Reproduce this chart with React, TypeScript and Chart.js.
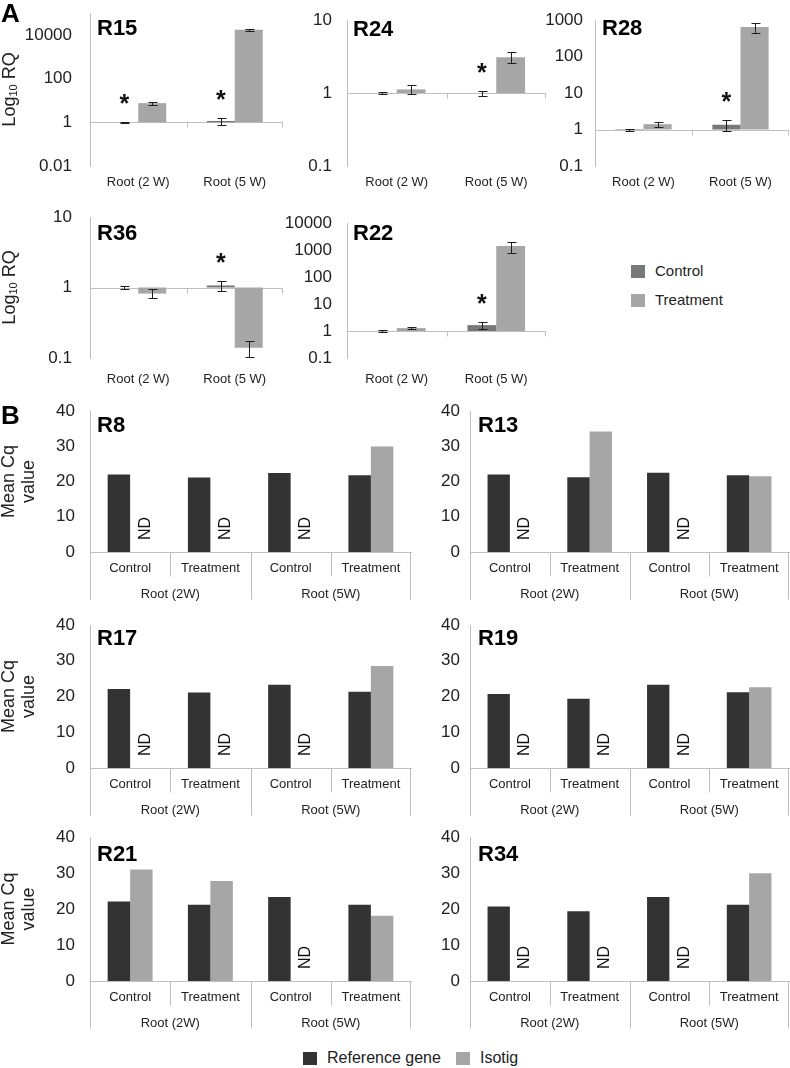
import React, { useEffect, useRef } from 'react';
import { Chart, registerables } from 'chart.js';

Chart.register(...registerables);

const FONT = "'Liberation Sans', Arial, Helvetica, sans-serif";
const TEXT = '#222222';
const AXIS = '#bfbfbf';
const CONTROL_COLOR = '#787878';
const TREATMENT_COLOR = '#a6a6a6';
const REFERENCE_COLOR = '#333333';
const ISOTIG_COLOR = '#a6a6a6';

// ---------- Panel A : relative quantification (log10 RQ) ----------
const A_CATEGORIES = ['Root (2 W)', 'Root (5 W)'];

const R15_CONTROL = [1.0, 1.15];
const R15_CONTROL_ERR = [0.05, 0.4];
const R15_TREATMENT = [7.5, 17000];
const R15_TREATMENT_ERR = [1.0, 2000];
const R15_STARS = [true, true];
const R15_TICKS = [0.01, 1, 100, 10000];
const R15_RANGE = [0.01, 100000];

const R24_CONTROL = [1.0, 1.0];
const R24_CONTROL_ERR = [0.04, 0.08];
const R24_TREATMENT = [1.12, 3.1];
const R24_TREATMENT_ERR = [0.15, 0.55];
const R24_STARS = [false, true];
const R24_TICKS = [0.1, 1, 10];
const R24_RANGE = [0.1, 10];

const R28_CONTROL = [0.97, 1.35];
const R28_CONTROL_ERR = [0.05, 0.45];
const R28_TREATMENT = [1.4, 640];
const R28_TREATMENT_ERR = [0.2, 200];
const R28_STARS = [false, true];
const R28_TICKS = [0.1, 1, 10, 100, 1000];
const R28_RANGE = [0.1, 1000];

const R36_CONTROL = [1.0, 1.07];
const R36_CONTROL_ERR = [0.06, 0.18];
const R36_TREATMENT = [0.82, 0.14];
const R36_TREATMENT_ERR = [0.12, 0.035];
const R36_STARS = [false, true];
const R36_TICKS = [0.1, 1, 10];
const R36_RANGE = [0.1, 10];

const R22_CONTROL = [1.0, 1.65];
const R22_CONTROL_ERR = [0.05, 0.5];
const R22_TREATMENT = [1.28, 1400];
const R22_TREATMENT_ERR = [0.12, 650];
const R22_STARS = [false, true];
const R22_TICKS = [0.1, 1, 10, 100, 1000, 10000];
const R22_RANGE = [0.1, 10000];

// ---------- Panel B : mean Cq values ----------
const B_CATEGORIES = ['Control', 'Treatment', 'Control', 'Treatment'];
const B_GROUPS = ['Root (2W)', 'Root (5W)'];
const B_TICKS = [0, 10, 20, 30, 40];
const B_RANGE = [0, 40];

const R8_REFERENCE = [22.0, 21.1, 22.4, 21.8];
const R8_ISOTIG = [null, null, null, 29.9];
const R13_REFERENCE = [22.0, 21.2, 22.5, 21.8];
const R13_ISOTIG = [null, 34.2, null, 21.5];
const R17_REFERENCE = [22.1, 21.1, 23.3, 21.3];
const R17_ISOTIG = [null, null, null, 28.5];
const R19_REFERENCE = [20.7, 19.4, 23.3, 21.2];
const R19_ISOTIG = [null, null, null, 22.6];
const R21_REFERENCE = [22.1, 21.2, 23.3, 21.2];
const R21_ISOTIG = [31.0, 27.8, null, 18.1];
const R34_REFERENCE = [20.7, 19.4, 23.3, 21.2];
const R34_ISOTIG = [null, null, null, 29.9];

type Box = { x: number; y: number; w: number; h: number };
type Plot = { l: number; t: number; r: number; b: number };

interface Common {
  title: string;
  canvas: Box;
  plot: Plot;
  tickPad: number;
  titleDx: number;
  titleDy: number;
  yTitle: boolean;
}
interface RqSpec extends Common {
  kind: 'A';
  control: number[];
  controlErr: number[];
  treatment: number[];
  treatmentErr: number[];
  stars: boolean[];
  ticks: number[];
  range: number[];
  labelPad: number;
}
interface CqSpec extends Common {
  kind: 'B';
  reference: number[];
  isotig: (number | null)[];
}
type Spec = RqSpec | CqSpec;

const A_SPECS: RqSpec[] = [
  { kind: 'A', title: 'R15', control: R15_CONTROL, controlErr: R15_CONTROL_ERR, treatment: R15_TREATMENT, treatmentErr: R15_TREATMENT_ERR, stars: R15_STARS, ticks: R15_TICKS, range: R15_RANGE,
    canvas: { x: 0, y: 0, w: 292, h: 200 }, plot: { l: 90, t: 13, r: 283, b: 166 }, tickPad: 18, labelPad: 9, titleDx: 7, titleDy: 22, yTitle: true },
  { kind: 'A', title: 'R24', control: R24_CONTROL, controlErr: R24_CONTROL_ERR, treatment: R24_TREATMENT, treatmentErr: R24_TREATMENT_ERR, stars: R24_STARS, ticks: R24_TICKS, range: R24_RANGE,
    canvas: { x: 280, y: 0, w: 267, h: 200 }, plot: { l: 347, t: 20, r: 546, b: 166 }, tickPad: 15, labelPad: 9, titleDx: 6, titleDy: 16, yTitle: false },
  { kind: 'A', title: 'R28', control: R28_CONTROL, controlErr: R28_CONTROL_ERR, treatment: R28_TREATMENT, treatmentErr: R28_TREATMENT_ERR, stars: R28_STARS, ticks: R28_TICKS, range: R28_RANGE,
    canvas: { x: 535, y: 0, w: 255, h: 200 }, plot: { l: 595, t: 20, r: 789, b: 166 }, tickPad: 12, labelPad: 9, titleDx: 7, titleDy: 15, yTitle: false },
  { kind: 'A', title: 'R36', control: R36_CONTROL, controlErr: R36_CONTROL_ERR, treatment: R36_TREATMENT, treatmentErr: R36_TREATMENT_ERR, stars: R36_STARS, ticks: R36_TICKS, range: R36_RANGE,
    canvas: { x: 0, y: 200, w: 292, h: 200 }, plot: { l: 90, t: 217, r: 283, b: 358 }, tickPad: 18, labelPad: 14, titleDx: 7, titleDy: 23, yTitle: true },
  { kind: 'A', title: 'R22', control: R22_CONTROL, controlErr: R22_CONTROL_ERR, treatment: R22_TREATMENT, treatmentErr: R22_TREATMENT_ERR, stars: R22_STARS, ticks: R22_TICKS, range: R22_RANGE,
    canvas: { x: 280, y: 200, w: 267, h: 200 }, plot: { l: 347, t: 223, r: 546, b: 358 }, tickPad: 15, labelPad: 14, titleDx: 6, titleDy: 17, yTitle: false },
];

const B_SPECS: CqSpec[] = [
  { kind: 'B', title: 'R8', reference: R8_REFERENCE, isotig: R8_ISOTIG,
    canvas: { x: 0, y: 395, w: 420, h: 215 }, plot: { l: 90, t: 411, r: 411, b: 552 }, tickPad: 15, titleDx: 7, titleDy: 21, yTitle: true },
  { kind: 'B', title: 'R13', reference: R13_REFERENCE, isotig: R13_ISOTIG,
    canvas: { x: 420, y: 395, w: 370, h: 215 }, plot: { l: 470, t: 411, r: 789, b: 552 }, tickPad: 10, titleDx: 8, titleDy: 21, yTitle: false },
  { kind: 'B', title: 'R17', reference: R17_REFERENCE, isotig: R17_ISOTIG,
    canvas: { x: 0, y: 610, w: 420, h: 215 }, plot: { l: 90, t: 625, r: 411, b: 768 }, tickPad: 15, titleDx: 7, titleDy: 20, yTitle: true },
  { kind: 'B', title: 'R19', reference: R19_REFERENCE, isotig: R19_ISOTIG,
    canvas: { x: 420, y: 610, w: 370, h: 215 }, plot: { l: 470, t: 625, r: 789, b: 768 }, tickPad: 10, titleDx: 8, titleDy: 20, yTitle: false },
  { kind: 'B', title: 'R21', reference: R21_REFERENCE, isotig: R21_ISOTIG,
    canvas: { x: 0, y: 822, w: 420, h: 215 }, plot: { l: 90, t: 837, r: 411, b: 981 }, tickPad: 15, titleDx: 7, titleDy: 24, yTitle: true },
  { kind: 'B', title: 'R34', reference: R34_REFERENCE, isotig: R34_ISOTIG,
    canvas: { x: 420, y: 822, w: 370, h: 215 }, plot: { l: 470, t: 837, r: 789, b: 981 }, tickPad: 10, titleDx: 8, titleDy: 24, yTitle: false },
];

function crisp(v: number) {
  return Math.round(v) + 0.5;
}

function zeroPadding(s: any) {
  s.paddingTop = 0;
  s.paddingBottom = 0;
  s.paddingLeft = 0;
  s.paddingRight = 0;
}

function makeDecor(spec: Spec) {
  return {
    id: 'decor_' + spec.title,
    beforeDatasetsDraw(chart: any) {
      if (spec.kind !== 'A') return;
      const { ctx, chartArea } = chart;
      const ys = chart.scales.y;
      const n = chart.data.labels.length;
      const w = (chartArea.right - chartArea.left) / n;
      const yy = crisp(ys.getPixelForValue(1));
      ctx.save();
      ctx.strokeStyle = AXIS;
      ctx.lineWidth = 1;
      ctx.beginPath();
      ctx.moveTo(chartArea.left, yy);
      ctx.lineTo(chartArea.right, yy);
      for (let i = 1; i <= n; i++) {
        const x = crisp(chartArea.left + i * w) - (i === n ? 1 : 0);
        ctx.moveTo(x, yy);
        ctx.lineTo(x, yy + 5);
      }
      ctx.stroke();
      ctx.restore();
    },
    afterDatasetsDraw(chart: any) {
      const { ctx, chartArea } = chart;
      const ys = chart.scales.y;
      ctx.save();
      if (spec.kind === 'A') {
        // error bars
        const sets = [
          { vals: spec.control, errs: spec.controlErr },
          { vals: spec.treatment, errs: spec.treatmentErr },
        ];
        ctx.strokeStyle = '#1e1e1e';
        ctx.lineWidth = 1;
        sets.forEach((s, d) => {
          const meta = chart.getDatasetMeta(d);
          s.vals.forEach((v, i) => {
            const el = meta.data[i];
            const x = crisp(el.x);
            const hi = crisp(ys.getPixelForValue(v + s.errs[i]));
            const lo = crisp(ys.getPixelForValue(v - s.errs[i]));
            ctx.beginPath();
            ctx.moveTo(x, hi);
            ctx.lineTo(x, lo);
            ctx.moveTo(x - 4, hi);
            ctx.lineTo(x + 5, hi);
            ctx.moveTo(x - 4, lo);
            ctx.lineTo(x + 5, lo);
            ctx.stroke();
          });
        });
        // significance stars
        const meta0 = chart.getDatasetMeta(0);
        ctx.fillStyle = '#111';
        ctx.font = `bold 25px ${FONT}`;
        ctx.textAlign = 'center';
        ctx.textBaseline = 'alphabetic';
        spec.stars.forEach((s, i) => {
          if (!s) return;
          const el = meta0.data[i];
          const top = ys.getPixelForValue(spec.control[i] + spec.controlErr[i]);
          ctx.fillText('*', el.x, top - 10);
        });
      } else {
        // ND labels where isotig not detected
        const meta0 = chart.getDatasetMeta(0);
        ctx.fillStyle = '#111';
        ctx.font = `16px ${FONT}`;
        ctx.textAlign = 'left';
        ctx.textBaseline = 'middle';
        spec.isotig.forEach((v, i) => {
          if (v !== null) return;
          const el = meta0.data[i];
          const x = el.x + el.width + 4;
          ctx.save();
          ctx.translate(x, chartArea.bottom - 12);
          ctx.rotate(-Math.PI / 2);
          ctx.fillText('ND', 0, 0);
          ctx.restore();
        });
        // multi-level category axis
        const n = chart.data.labels.length;
        const w = (chartArea.right - chartArea.left) / n;
        const per = n / B_GROUPS.length;
        const base = crisp(chartArea.bottom);
        ctx.strokeStyle = AXIS;
        ctx.lineWidth = 1;
        ctx.beginPath();
        for (let i = 0; i <= n; i++) {
          const x = crisp(chartArea.left + i * w) - (i === n ? 1 : 0);
          const len = i % per === 0 ? 47 : 24;
          ctx.moveTo(x, base);
          ctx.lineTo(x, base + len);
        }
        ctx.stroke();
        ctx.fillStyle = TEXT;
        ctx.font = `13px ${FONT}`;
        ctx.textAlign = 'center';
        ctx.textBaseline = 'middle';
        B_GROUPS.forEach((g, gi) => {
          const cx = chartArea.left + (gi + 0.5) * per * w;
          ctx.fillText(g, cx, chartArea.bottom + 42);
        });
      }
      // chart title
      ctx.fillStyle = '#000';
      ctx.font = `bold 22px ${FONT}`;
      ctx.textAlign = 'left';
      ctx.textBaseline = 'alphabetic';
      ctx.fillText(spec.title, chartArea.left + spec.titleDx, chartArea.top + spec.titleDy);
      // y-axis title
      if (spec.yTitle) {
        const cy = (chartArea.top + chartArea.bottom) / 2;
        ctx.fillStyle = TEXT;
        if (spec.kind === 'A') {
          ctx.save();
          ctx.translate(15 - spec.canvas.x, cy);
          ctx.rotate(-Math.PI / 2);
          ctx.textAlign = 'left';
          ctx.textBaseline = 'alphabetic';
          ctx.font = `18px ${FONT}`;
          const wLog = ctx.measureText('Log').width;
          const wRq = ctx.measureText(' RQ').width;
          ctx.font = `11px ${FONT}`;
          const w10 = ctx.measureText('10').width;
          const start = -(wLog + w10 + wRq) / 2;
          ctx.font = `18px ${FONT}`;
          ctx.fillText('Log', start, 0);
          ctx.font = `11px ${FONT}`;
          ctx.fillText('10', start + wLog, 2);
          ctx.font = `18px ${FONT}`;
          ctx.fillText(' RQ', start + wLog + w10, 0);
          ctx.restore();
        } else {
          ctx.save();
          ctx.translate(19 - spec.canvas.x, cy);
          ctx.rotate(-Math.PI / 2);
          ctx.textAlign = 'center';
          ctx.textBaseline = 'middle';
          ctx.font = `18px ${FONT}`;
          ctx.fillText('Mean Cq', 0, -10);
          ctx.fillText('value', 0, 10);
          ctx.restore();
        }
      }
      ctx.restore();
    },
  };
}

function buildConfig(spec: Spec): any {
  const { canvas, plot } = spec;
  const padding = { left: 0, top: plot.t - canvas.y, right: canvas.x + canvas.w - plot.r, bottom: 0 };
  const yWidth = plot.l - canvas.x;
  const xHeight = canvas.y + canvas.h - plot.b;
  if (spec.kind === 'A') {
    return {
      type: 'bar',
      data: {
        labels: A_CATEGORIES,
        datasets: [
          { label: 'Control', data: spec.control, backgroundColor: CONTROL_COLOR, base: 1, borderWidth: 0, categoryPercentage: 0.58, barPercentage: 1 },
          { label: 'Treatment', data: spec.treatment, backgroundColor: TREATMENT_COLOR, base: 1, borderWidth: 0, categoryPercentage: 0.58, barPercentage: 1 },
        ],
      },
      options: {
        animation: false,
        responsive: false,
        maintainAspectRatio: false,
        layout: { padding },
        plugins: { legend: { display: false }, tooltip: { enabled: false } },
        scales: {
          x: {
            type: 'category',
            grid: { display: false, drawTicks: false },
            border: { display: false },
            ticks: { color: TEXT, font: { family: FONT, size: 13 }, padding: spec.labelPad, autoSkip: false, maxRotation: 0 },
            afterFit: (s: any) => { s.height = xHeight; zeroPadding(s); },
          },
          y: {
            type: 'logarithmic',
            min: spec.range[0],
            max: spec.range[1],
            grid: { display: false, drawTicks: false },
            border: { display: true, color: AXIS, width: 1 },
            ticks: { color: TEXT, font: { family: FONT, size: 17 }, padding: spec.tickPad, autoSkip: false, callback: (v: any) => String(v) },
            afterBuildTicks: (s: any) => { s.ticks = spec.ticks.map((v) => ({ value: v })); },
            afterFit: (s: any) => { s.width = yWidth; zeroPadding(s); },
          },
        },
      },
      plugins: [makeDecor(spec)],
    };
  }
  return {
    type: 'bar',
    data: {
      labels: B_CATEGORIES,
      datasets: [
        { label: 'Reference gene', data: spec.reference, backgroundColor: REFERENCE_COLOR, borderWidth: 0, categoryPercentage: 0.56, barPercentage: 1 },
        { label: 'Isotig', data: spec.isotig, backgroundColor: ISOTIG_COLOR, borderWidth: 0, categoryPercentage: 0.56, barPercentage: 1 },
      ],
    },
    options: {
      animation: false,
      responsive: false,
      maintainAspectRatio: false,
      layout: { padding },
      plugins: { legend: { display: false }, tooltip: { enabled: false } },
      scales: {
        x: {
          type: 'category',
          grid: { display: false, drawTicks: false },
          border: { display: true, color: AXIS, width: 1 },
          ticks: { color: TEXT, font: { family: FONT, size: 13 }, padding: 9, autoSkip: false, maxRotation: 0 },
          afterFit: (s: any) => { s.height = xHeight; zeroPadding(s); },
        },
        y: {
          type: 'linear',
          min: B_RANGE[0],
          max: B_RANGE[1],
          grid: { display: false, drawTicks: false },
          border: { display: true, color: AXIS, width: 1 },
          ticks: { color: TEXT, font: { family: FONT, size: 17 }, padding: spec.tickPad, autoSkip: false },
          afterBuildTicks: (s: any) => { s.ticks = B_TICKS.map((v) => ({ value: v })); },
          afterFit: (s: any) => { s.width = yWidth; zeroPadding(s); },
        },
      },
    },
    plugins: [makeDecor(spec)],
  };
}

function MiniChart({ spec }: { spec: Spec }) {
  const ref = useRef<HTMLCanvasElement>(null);
  useEffect(() => {
    const chart = new Chart(ref.current as HTMLCanvasElement, buildConfig(spec));
    return () => chart.destroy();
  }, [spec]);
  const c = spec.canvas;
  return (
    <canvas
      ref={ref}
      width={c.w}
      height={c.h}
      style={{ position: 'absolute', left: c.x, top: c.y, width: c.w, height: c.h }}
    />
  );
}

function LegendItem({ x, y, color, label, size }: { x: number; y: number; color: string; label: string; size: number }) {
  return (
    <>
      <div style={{ position: 'absolute', left: x, top: y - 6, width: 14, height: 13, background: color }} />
      <div style={{ position: 'absolute', left: x + 24, top: y - 9, height: 18, lineHeight: '18px', fontSize: size, color: TEXT, whiteSpace: 'nowrap' }}>
        {label}
      </div>
    </>
  );
}

export default function App() {
  const panelLabel = (top: number): React.CSSProperties => ({
    position: 'absolute', left: 1, top, fontSize: 26, lineHeight: '26px', fontWeight: 'bold', color: '#000',
  });
  return (
    <div style={{ position: 'absolute', left: 0, top: 0, width: 790, height: 1068, background: '#fff', fontFamily: FONT, overflow: 'hidden' }}>
      {A_SPECS.map((s) => <MiniChart key={s.title} spec={s} />)}
      {B_SPECS.map((s) => <MiniChart key={s.title} spec={s} />)}
      <div style={panelLabel(0)}>A</div>
      <div style={panelLabel(402)}>B</div>
      <LegendItem x={631} y={271} color={CONTROL_COLOR} label="Control" size={15} />
      <LegendItem x={631} y={300} color={TREATMENT_COLOR} label="Treatment" size={15} />
      <LegendItem x={303} y={1058} color={REFERENCE_COLOR} label="Reference gene" size={16} />
      <LegendItem x={456} y={1058} color={ISOTIG_COLOR} label="Isotig" size={16} />
    </div>
  );
}
